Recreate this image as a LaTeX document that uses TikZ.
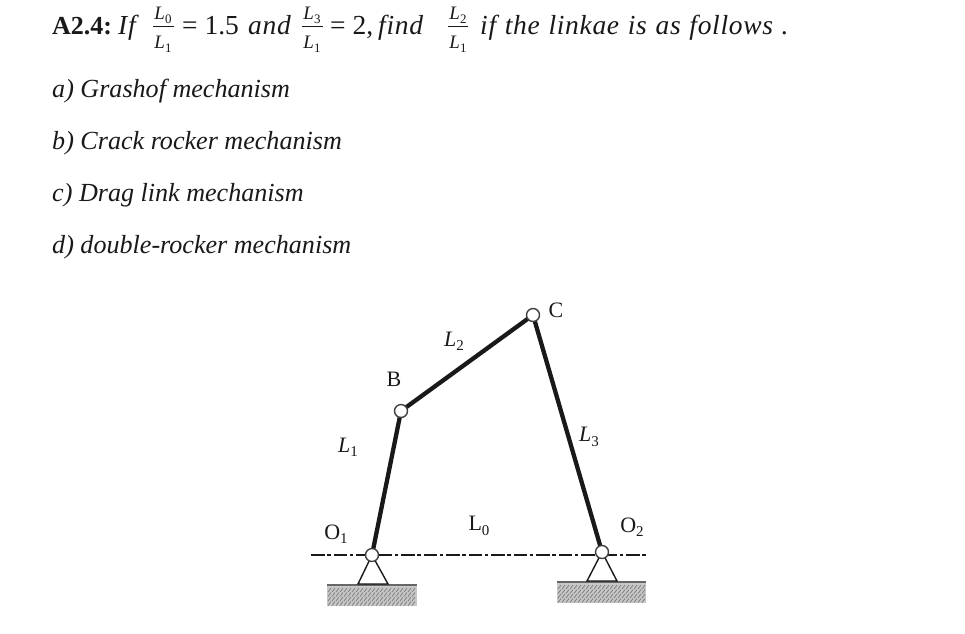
\documentclass[tikz,border=0pt]{standalone}
\usepackage{fontspec}
\setmainfont{Liberation Serif}
\newfontface\widemath[LetterSpace=2.5,WordSpace=1.15]{Liberation Serif Italic}
\newcommand\subd[1]{\raisebox{-0.2em}{\scalebox{0.68}{\upshape #1}}}
\definecolor{ink}{gray}{0.1}
\tikzset{
  x=1pt,y=-1pt,
  txt/.style={inner sep=0pt,anchor=base west,text=ink},
  opt/.style={txt,font=\fontsize{26.1}{26}\selectfont\itshape},
  head/.style={txt,font=\fontsize{27.5}{26}\selectfont},
  headm/.style={txt,font=\fontsize{27.5}{26}\widemath},
  frac/.style={inner sep=0pt,text=ink,font=\fontsize{19}{19}\selectfont\itshape},
  fbar/.style={line width=1pt,draw=ink},
  lab/.style={inner sep=0pt,text=ink,font=\fontsize{22}{22}\selectfont},
  labi/.style={lab,font=\fontsize{22}{22}\selectfont\itshape},
  bar/.style={line width=4.3pt,draw=black!90},
  joint/.style={circle,draw=black!75,fill=white,line width=1.4pt,minimum size=13pt,inner sep=0pt},
  datum/.style={line width=2.3pt,draw=ink,dash pattern=on 13.5pt off 2.8pt on 3.4pt off 2.8pt},
  tri/.style={line width=1.4pt,draw=ink},
  ground/.style={fill=black!22,draw=none},
  gstroke/.style={line width=0.8pt,draw=black!50},
  gline/.style={line width=1.6pt,draw=black!60},
}
\begin{document}
\begin{tikzpicture}
\useasboundingbox (0,0) rectangle (965,633);
\fill[white] (0,0) rectangle (965,633);
% heading
\node[head,font=\fontsize{26}{26}\selectfont\bfseries] (h1) at (52,34) {A2.4:};
\node[headm] (h2) at (118,34) {If};
\node[frac] (n1) at (163,15) {L\subd{0}};
\node[frac] (d1) at (163,44) {L\subd{1}};
\draw[fbar] (153,26) -- (174,26);
\node[head] (h3) at (182,34) {= 1.5};
\node[headm] (h4) at (248,34) {and};
\node[frac] (n2) at (312,15) {L\subd{3}};
\node[frac] (d2) at (312,44) {L\subd{1}};
\draw[fbar] (302,26) -- (323,26);
\node[head] (h5) at (330,34) {= 2,};
\node[headm] (h6) at (378,34) {find};
\node[frac] (n3) at (458,15) {L\subd{2}};
\node[frac] (d3) at (458,44) {L\subd{1}};
\draw[fbar] (448,26) -- (468,26);
\node[headm] (h7) at (480,34) {if the linkae is as follows .};
% options
\node[opt] (a) at (52,97) {a) Grashof mechanism};
\node[opt] (b) at (52,149) {b) Crack rocker mechanism};
\node[opt] (c) at (52,201) {c) Drag link mechanism};
\node[opt] (d) at (52,253) {d) double-rocker mechanism};
% ground
\fill[ground] (327,585) rectangle (417,606);
\fill[ground] (557,582) rectangle (646,603);
\foreach \gx/\gy in {327/585,557/582}{
  \foreach \i in {0,...,21}{
    \foreach \j in {0,1,2,3}{
      \draw[gstroke] ({\gx+1+\i*4},{\gy+7+\j*4.5}) -- ({\gx+4+\i*4},{\gy+3+\j*4.5});
    }
  }
}
\draw[gline] (327,585) -- (417,585);
\draw[gline] (557,582) -- (646,582);
% datum line
\coordinate (dl) at (311,555);
\coordinate (dr) at (646,555);
\draw[datum] (dl) -- (dr);
% supports
\coordinate (t1l) at (358,584);
\coordinate (t1r) at (388,584);
\coordinate (t2l) at (587,581);
\coordinate (t2r) at (617,581);
\coordinate (O1) at (372,555);
\coordinate (O2) at (602,552);
\draw[tri] (O1) -- (t1l) -- (t1r) -- cycle;
\draw[tri] (O2) -- (t2l) -- (t2r) -- cycle;
% links
\coordinate (B) at (401,411);
\coordinate (C) at (533,315);
\draw[bar] (O1) -- (B);
\draw[bar] (B) -- (C);
\draw[bar] (C) -- (O2);
% joints
\node[joint] (jO1) at (O1) {};
\node[joint] (jO2) at (O2) {};
\node[joint] (jB) at (B) {};
\node[joint] (jC) at (C) {};
% labels
\node[lab] (lB) at (394,379) {B};
\node[lab] (lC) at (556,310) {C};
\node[lab] (lO1) at (336,534) {O\subd{1}};
\node[lab] (lO2) at (632,527) {O\subd{2}};
\node[lab] (lL0) at (479,526) {L\subd{0}};
\node[labi] (lL1) at (348,447) {L\subd{1}};
\node[labi] (lL2) at (454,341) {L\subd{2}};
\node[labi] (lL3) at (589,437) {L\subd{3}};
\end{tikzpicture}
\end{document}
